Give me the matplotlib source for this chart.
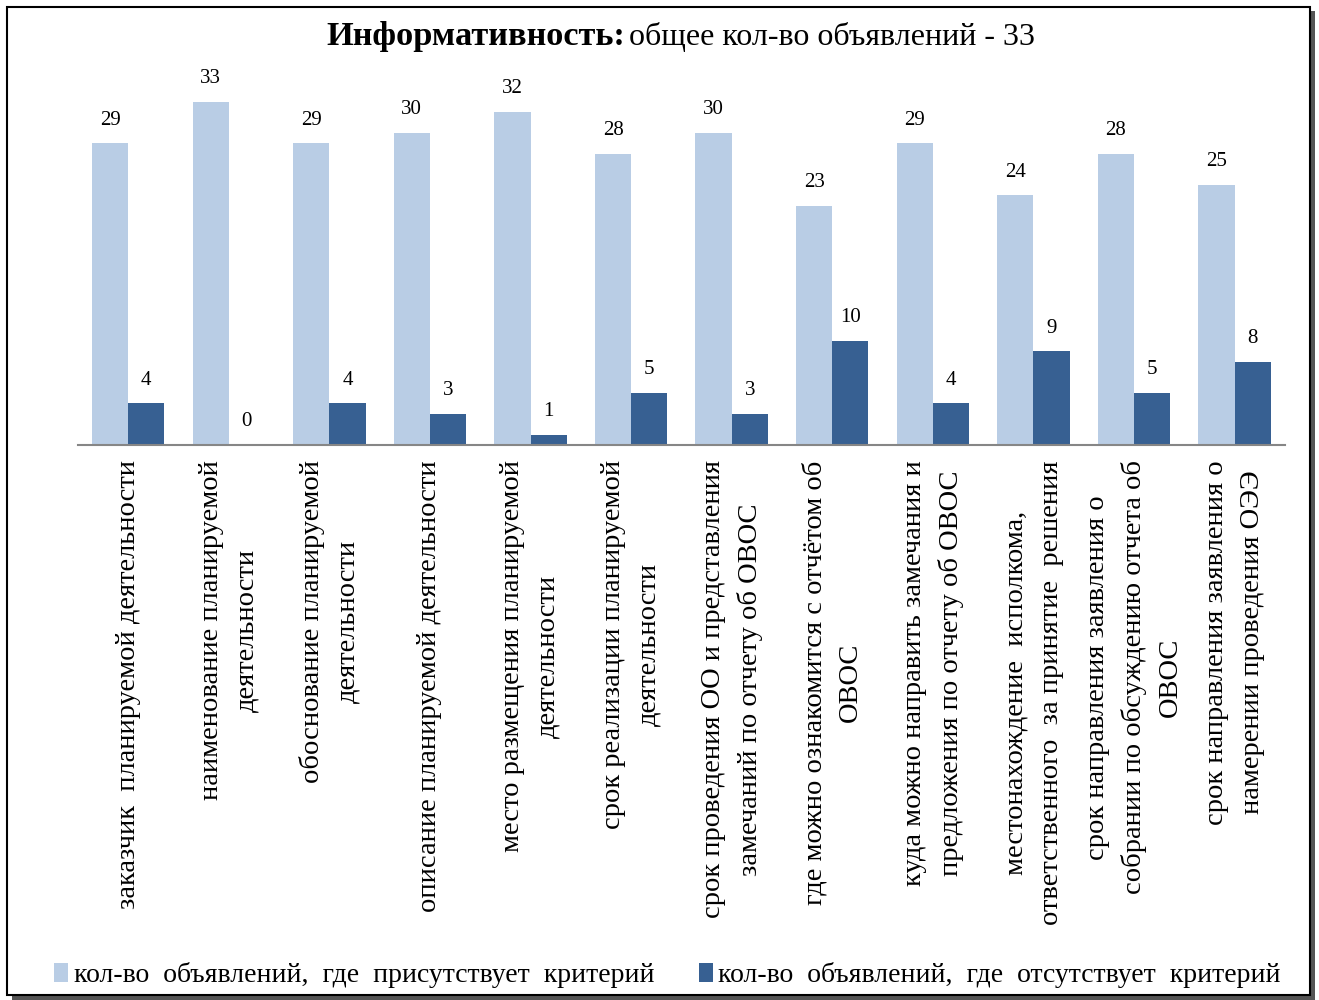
import matplotlib.pyplot as plt
import numpy as np
from matplotlib.patches import Rectangle

plt.rcParams['font.family'] = ['Liberation Serif', 'DejaVu Serif']

categories = [
    "заказчик  планируемой деятельности",
    "наименование планируемой\nдеятельности",
    "обоснование планируемой\nдеятельности",
    "описание планируемой деятельности",
    "место размещения планируемой\nдеятельности",
    "срок реализации планируемой\nдеятельности",
    "срок проведения ОО и представления\nзамечаний по отчету об ОВОС",
    "где можно ознакомится с отчётом об\nОВОС",
    "куда можно направить замечания и\nпредложения по отчету об ОВОС",
    "местонахождение  исполкома,\nответственного  за принятие  решения",
    "срок направления заявления о\nсобрании по обсуждению отчета об\nОВОС",
    "срок направления заявления о\nнамерении проведения ОЭЭ",
]
present = [29, 33, 29, 30, 32, 28, 30, 23, 29, 24, 28, 25]
absent = [4, 0, 4, 3, 1, 5, 3, 10, 4, 9, 5, 8]
series_names = ["кол-во  объявлений,  где  присутствует  критерий",
                "кол-во  объявлений,  где  отсутствует  критерий"]

light = '#b9cde5'
dark = '#376092'

fig = plt.figure(figsize=(13.19, 10), dpi=100)

# рамка с тенью
fig.patches.append(Rectangle((0.009, 0.0), 0.988, 0.989, transform=fig.transFigure,
                             facecolor='#555555', edgecolor='none', zorder=-2))
fig.patches.append(Rectangle((0.005, 0.005), 0.988, 0.988, transform=fig.transFigure,
                             facecolor='white', edgecolor='black', linewidth=1.5, zorder=-1))

ax = fig.add_axes([0.0591, 0.555, 0.915, 0.364])
x = np.arange(len(categories))
w = 0.36
b1 = ax.bar(x - w / 2, present, w, color=light, label=series_names[0])
b2 = ax.bar(x + w / 2, absent, w, color=dark, label=series_names[1])

for bars in (b1, b2):
    for r in bars:
        ax.annotate(str(int(r.get_height())), (r.get_x() + r.get_width() / 2, r.get_height()),
                    xytext=(0, 10), textcoords='offset points', ha='center', va='bottom',
                    fontsize=15)

ax.set_xlim(-0.5, 11.5)
ax.set_ylim(0, 35)
ax.set_xticks(x)
ax.set_xticklabels(categories, rotation=90, va='top', ha='center',
                   multialignment='center', fontsize=20.5, linespacing=1.55)
ax.tick_params(axis='x', length=0, pad=11)
ax.set_yticks([])
for s in ['top', 'right', 'left']:
    ax.spines[s].set_visible(False)
ax.spines['bottom'].set_color('#868686')
ax.spines['bottom'].set_linewidth(1.5)

fig.text(0.474, 0.963, "Информативность:", fontsize=24.7, fontweight='bold', ha='right', va='center')
fig.text(0.477, 0.963, "общее кол-во объявлений - 33", fontsize=23, ha='left', va='center')

fig.legend(handles=[b1, b2], loc='center', bbox_to_anchor=(0.506, 0.025), ncol=2,
           frameon=False, fontsize=20, handlelength=0.5, handleheight=0.7,
           handletextpad=0.2, columnspacing=1.6)

fig.savefig('out.png', dpi=100)
